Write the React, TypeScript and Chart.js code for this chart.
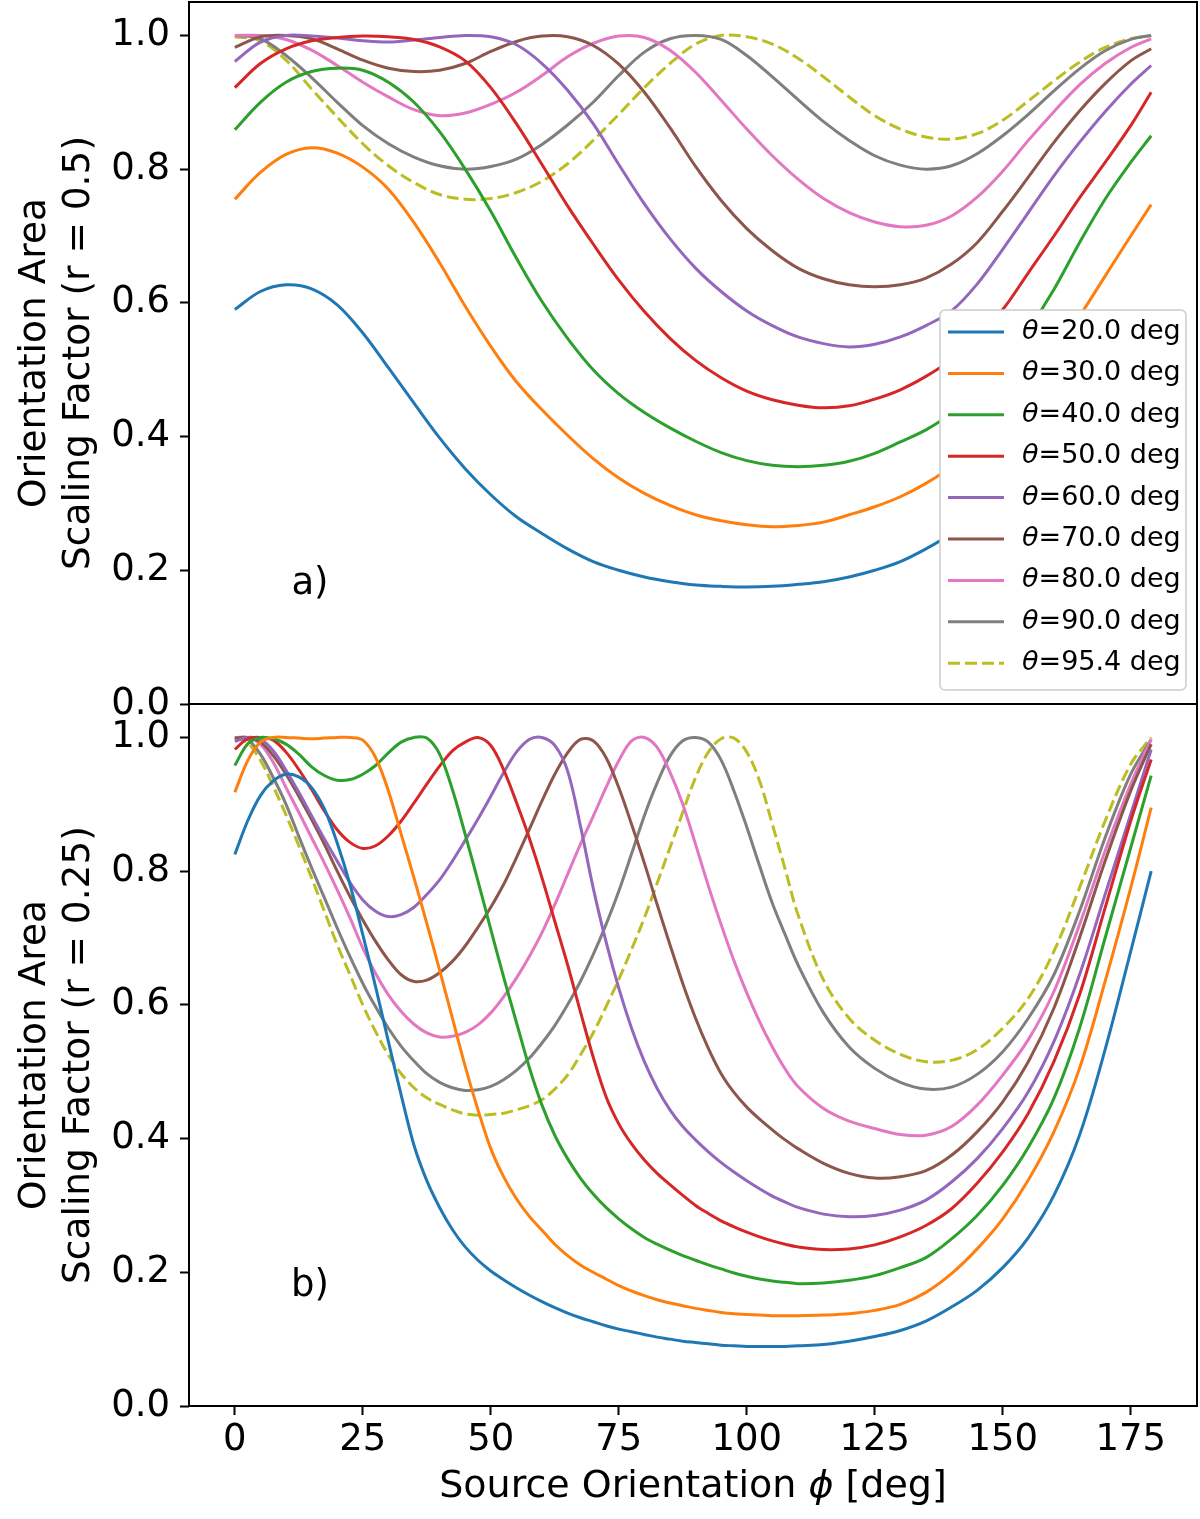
import { useEffect, useRef } from 'react'
import { Chart, registerables } from 'chart.js'

Chart.register(...registerables)

const FONT = "'DejaVu Sans', sans-serif"

// source orientation phi [deg], sample grid of the upper panel (r = 0.5)
const phiTop = [0, 5, 10, 15, 20, 25, 30, 35, 40, 45, 50, 55, 60, 65, 70, 75, 80, 85, 90, 95, 100, 105, 110, 115, 120, 125, 130, 135, 140, 145, 150, 155, 160, 165, 170, 175, 179]

const topT20 = [0.59, 0.617, 0.627, 0.621, 0.597, 0.555, 0.503, 0.45, 0.398, 0.352, 0.313, 0.28, 0.255, 0.232, 0.213, 0.2, 0.19, 0.183, 0.178, 0.176, 0.175, 0.176, 0.179, 0.183, 0.19, 0.2, 0.213, 0.232, 0.255, 0.285, 0.32, 0.36, 0.405, 0.455, 0.505, 0.555, 0.585]
const topT30 = [0.755, 0.795, 0.822, 0.832, 0.824, 0.803, 0.77, 0.72, 0.66, 0.595, 0.535, 0.482, 0.44, 0.402, 0.367, 0.338, 0.315, 0.297, 0.283, 0.274, 0.268, 0.265, 0.267, 0.272, 0.283, 0.295, 0.31, 0.33, 0.355, 0.39, 0.43, 0.475, 0.525, 0.58, 0.64, 0.7, 0.747]
const topT40 = [0.859, 0.9, 0.93, 0.946, 0.951, 0.948, 0.93, 0.9, 0.856, 0.8, 0.737, 0.667, 0.602, 0.547, 0.5, 0.464, 0.436, 0.413, 0.393, 0.376, 0.364, 0.357, 0.355, 0.357, 0.363, 0.375, 0.392, 0.41, 0.435, 0.47, 0.51, 0.56, 0.62, 0.69, 0.755, 0.81, 0.85]
const topT50 = [0.922, 0.958, 0.98, 0.992, 0.997, 0.999, 0.998, 0.994, 0.983, 0.962, 0.922, 0.868, 0.807, 0.745, 0.688, 0.634, 0.587, 0.547, 0.514, 0.488, 0.468, 0.455, 0.447, 0.443, 0.446, 0.456, 0.47, 0.49, 0.515, 0.55, 0.59, 0.645, 0.7, 0.757, 0.81, 0.865, 0.915]
const topT60 = [0.961, 0.99, 1.0, 0.999, 0.996, 0.992, 0.99, 0.993, 0.997, 1.0, 0.998, 0.986, 0.958, 0.918, 0.868, 0.807, 0.748, 0.696, 0.652, 0.617, 0.588, 0.566, 0.549, 0.539, 0.534, 0.538, 0.549, 0.566, 0.588, 0.628, 0.68, 0.735, 0.79, 0.84, 0.886, 0.927, 0.955]
const topT70 = [0.982, 0.998, 1.0, 0.995, 0.98, 0.963, 0.951, 0.946, 0.948, 0.958, 0.976, 0.991, 0.999, 0.998, 0.985, 0.957, 0.915, 0.862, 0.804, 0.753, 0.711, 0.678, 0.652, 0.636, 0.627, 0.624, 0.627, 0.637, 0.658, 0.69, 0.737, 0.788, 0.84, 0.887, 0.928, 0.962, 0.98]
const topT80 = [1.0, 1.0, 0.994, 0.978, 0.955, 0.93, 0.908, 0.889, 0.88, 0.884, 0.897, 0.915, 0.94, 0.968, 0.988, 0.999, 0.997, 0.978, 0.945, 0.903, 0.86, 0.82, 0.785, 0.756, 0.735, 0.721, 0.714, 0.716, 0.73, 0.758, 0.797, 0.843, 0.886, 0.926, 0.958, 0.982, 0.995]
const topT90 = [1.0, 0.995, 0.97, 0.937, 0.9, 0.865, 0.838, 0.818, 0.805, 0.8, 0.804, 0.815, 0.837, 0.866, 0.9, 0.94, 0.975, 0.995, 1.0, 0.994, 0.97, 0.938, 0.904, 0.871, 0.843, 0.82, 0.806, 0.8, 0.805, 0.823, 0.85, 0.882, 0.917, 0.95, 0.977, 0.994, 1.0]
const topT95 = [0.998, 0.992, 0.963, 0.92, 0.878, 0.838, 0.805, 0.78, 0.762, 0.755, 0.756, 0.765, 0.782, 0.808, 0.843, 0.882, 0.922, 0.958, 0.987, 1.0, 0.998, 0.987, 0.966, 0.938, 0.908, 0.88, 0.86, 0.848, 0.845, 0.853, 0.873, 0.902, 0.932, 0.96, 0.982, 0.995, 1.0]

// sample grid of the lower panel (r = 0.25), finer where the curves are narrow
const phiBottom = [0, 2.5, 5, 7.5, 10, 12.5, 15, 17.5, 20, 22.5, 25, 27.5, 30, 32.5, 35, 37.5, 40, 42.5, 45, 47.5, 50, 52.5, 55, 57.5, 60, 62.5, 65, 67.5, 70, 72.5, 75, 77.5, 80, 82.5, 85, 87.5, 90, 92.5, 95, 97.5, 100, 102.5, 105, 107.5, 110, 115, 120, 125, 130, 135, 140, 145, 150, 155, 160, 165, 170, 175, 179]

const botT20 = [0.825, 0.875, 0.913, 0.935, 0.945, 0.941, 0.925, 0.893, 0.842, 0.78, 0.705, 0.627, 0.545, 0.465, 0.39, 0.337, 0.297, 0.264, 0.238, 0.218, 0.202, 0.189, 0.177, 0.166, 0.156, 0.147, 0.139, 0.132, 0.126, 0.12, 0.115, 0.111, 0.107, 0.103, 0.1, 0.097, 0.095, 0.093, 0.091, 0.09, 0.089, 0.089, 0.089, 0.089, 0.09, 0.092, 0.097, 0.104, 0.113, 0.127, 0.148, 0.173, 0.207, 0.252, 0.315, 0.405, 0.533, 0.68, 0.8]
const botT30 = [0.918, 0.965, 0.993, 1.0, 1.0, 0.999, 0.998, 0.999, 1.0, 1.0, 0.996, 0.97, 0.92, 0.855, 0.79, 0.722, 0.652, 0.58, 0.508, 0.443, 0.385, 0.343, 0.31, 0.284, 0.263, 0.242, 0.225, 0.211, 0.2, 0.19, 0.18, 0.172, 0.165, 0.159, 0.154, 0.15, 0.146, 0.143, 0.14, 0.138, 0.137, 0.136, 0.135, 0.135, 0.135, 0.136, 0.138, 0.143, 0.152, 0.17, 0.198, 0.235, 0.28, 0.338, 0.41, 0.505, 0.635, 0.775, 0.895]
const botT40 = [0.958, 0.99, 1.0, 0.998, 0.99, 0.975, 0.956, 0.943, 0.936, 0.937, 0.945, 0.958, 0.977, 0.993, 1.0, 0.999, 0.975, 0.922, 0.855, 0.785, 0.713, 0.642, 0.574, 0.507, 0.45, 0.405, 0.37, 0.341, 0.317, 0.297, 0.28, 0.265, 0.252, 0.242, 0.233, 0.225, 0.218, 0.211, 0.205, 0.199, 0.194, 0.19, 0.187, 0.185, 0.183, 0.184, 0.188, 0.195, 0.207, 0.222, 0.25, 0.285, 0.33, 0.387, 0.46, 0.565, 0.7, 0.835, 0.943]
const botT50 = [0.982, 0.998, 1.0, 0.996, 0.978, 0.952, 0.922, 0.89, 0.862, 0.843, 0.834, 0.838, 0.853, 0.875, 0.902, 0.93, 0.957, 0.98, 0.993, 1.0, 0.988, 0.952, 0.903, 0.85, 0.79, 0.725, 0.66, 0.59, 0.522, 0.463, 0.422, 0.392, 0.368, 0.348, 0.331, 0.315, 0.3, 0.288, 0.277, 0.268, 0.26, 0.253, 0.247, 0.242, 0.238, 0.234, 0.235, 0.241, 0.253, 0.27, 0.295, 0.333, 0.38, 0.438, 0.515, 0.615, 0.745, 0.875, 0.967]
const botT60 = [0.994, 1.0, 0.997, 0.98, 0.951, 0.918, 0.883, 0.848, 0.815, 0.783, 0.757, 0.74, 0.732, 0.735, 0.746, 0.765, 0.787, 0.815, 0.846, 0.878, 0.912, 0.947, 0.978, 0.997, 1.0, 0.988, 0.95, 0.868, 0.775, 0.695, 0.625, 0.565, 0.515, 0.475, 0.443, 0.418, 0.398, 0.38, 0.364, 0.35, 0.337, 0.325, 0.314, 0.305, 0.297, 0.287, 0.283, 0.285, 0.293, 0.308, 0.335, 0.37, 0.415, 0.47, 0.545, 0.645, 0.765, 0.885, 0.982]
const botT70 = [0.999, 1.0, 0.993, 0.973, 0.945, 0.912, 0.877, 0.84, 0.8, 0.762, 0.727, 0.695, 0.667, 0.645, 0.635, 0.637, 0.648, 0.665, 0.688, 0.716, 0.746, 0.78, 0.82, 0.862, 0.905, 0.945, 0.977, 0.997, 0.995, 0.97, 0.925, 0.87, 0.812, 0.75, 0.69, 0.632, 0.58, 0.535, 0.497, 0.469, 0.447, 0.429, 0.413, 0.398, 0.385, 0.363, 0.348, 0.341, 0.343, 0.352, 0.375, 0.41, 0.455, 0.515, 0.595, 0.7, 0.815, 0.92, 0.99]
const botT80 = [1.0, 1.0, 0.99, 0.963, 0.925, 0.888, 0.85, 0.812, 0.772, 0.73, 0.685, 0.647, 0.615, 0.59, 0.571, 0.558, 0.552, 0.553, 0.559, 0.57, 0.588, 0.612, 0.64, 0.672, 0.708, 0.75, 0.795, 0.84, 0.882, 0.925, 0.965, 0.995, 1.0, 0.985, 0.948, 0.9, 0.84, 0.778, 0.72, 0.666, 0.618, 0.575, 0.537, 0.504, 0.478, 0.445, 0.426, 0.415, 0.406, 0.405, 0.418, 0.45, 0.495, 0.548, 0.62, 0.72, 0.83, 0.93, 0.997]
const botT90 = [1.0, 0.997, 0.975, 0.94, 0.9, 0.852, 0.805, 0.76, 0.715, 0.672, 0.632, 0.597, 0.565, 0.538, 0.516, 0.497, 0.484, 0.476, 0.472, 0.473, 0.478, 0.488, 0.502, 0.52, 0.543, 0.569, 0.6, 0.635, 0.675, 0.72, 0.77, 0.826, 0.883, 0.932, 0.972, 0.995, 1.0, 0.993, 0.966, 0.92, 0.866, 0.808, 0.752, 0.705, 0.66, 0.588, 0.537, 0.505, 0.484, 0.474, 0.477, 0.496, 0.53, 0.58, 0.645, 0.74, 0.85, 0.945, 0.997]
const botT95 = [0.999, 0.992, 0.966, 0.927, 0.884, 0.838, 0.79, 0.74, 0.69, 0.645, 0.6, 0.56, 0.525, 0.497, 0.476, 0.461, 0.451, 0.443, 0.437, 0.435, 0.436, 0.438, 0.443, 0.449, 0.458, 0.474, 0.495, 0.525, 0.558, 0.597, 0.638, 0.683, 0.73, 0.782, 0.835, 0.888, 0.94, 0.978, 0.998, 0.999, 0.978, 0.935, 0.87, 0.803, 0.735, 0.637, 0.58, 0.547, 0.526, 0.515, 0.517, 0.533, 0.565, 0.61, 0.68, 0.775, 0.875, 0.96, 1.0]

const thetaLabels = ['20.0', '30.0', '40.0', '50.0', '60.0', '70.0', '80.0', '90.0', '95.4']
const yTicks = [0, 0.2, 0.4, 0.6, 0.8, 1.0]
const xTicks = [0, 25, 50, 75, 100, 125, 150, 175]

const lineColors = ['#1f77b4', '#ff7f0e', '#2ca02c', '#d62728', '#9467bd', '#8c564b', '#e377c2', '#7f7f7f', '#bcbd22']
const DASH = [12, 5]

function makeDatasets(phi: number[], series: number[][]) {
  return series.map((vals, i) => ({
    label: `θ=${thetaLabels[i]} deg`,
    data: phi.map((x, k) => ({ x, y: vals[k] })),
    borderColor: lineColors[i],
    backgroundColor: lineColors[i],
    borderWidth: 3,
    borderDash: i === 8 ? DASH : [],
    pointRadius: 0,
    tension: 0.35,
    fill: false,
  }))
}

const framePlugin = {
  id: 'frame',
  afterDatasetsDraw(chart: any) {
    const { ctx, chartArea: a } = chart
    ctx.save()
    ctx.strokeStyle = '#000'
    ctx.lineWidth = 2
    ctx.strokeRect(a.left, a.top, a.right - a.left, a.bottom - a.top)
    ctx.restore()
  },
}

function panelLabel(text: string) {
  return {
    id: 'panel-' + text,
    afterDatasetsDraw(chart: any) {
      const { ctx, chartArea: a } = chart
      ctx.save()
      ctx.fillStyle = '#000'
      ctx.font = `37px ${FONT}`
      ctx.textAlign = 'center'
      ctx.textBaseline = 'middle'
      ctx.fillText(text, a.left + 0.12 * (a.right - a.left), a.bottom - 0.17 * (a.bottom - a.top))
      ctx.restore()
    },
  }
}

const legendPlugin = {
  id: 'boxLegend',
  afterDraw(chart: any) {
    const { ctx, chartArea: a } = chart
    const x0 = a.right - 257
    const y0 = a.bottom - 394
    ctx.save()
    ctx.beginPath()
    ctx.roundRect(x0, y0, 246, 380, 5)
    ctx.fillStyle = '#fff'
    ctx.fill()
    ctx.strokeStyle = '#cccccc'
    ctx.lineWidth = 1.5
    ctx.stroke()
    chart.data.datasets.forEach((ds: any, i: number) => {
      const y = y0 + 22 + i * 41.4
      ctx.beginPath()
      ctx.setLineDash(ds.borderDash)
      ctx.strokeStyle = ds.borderColor
      ctx.lineWidth = 3
      ctx.moveTo(x0 + 8, y)
      ctx.lineTo(x0 + 64, y)
      ctx.stroke()
      ctx.setLineDash([])
      ctx.fillStyle = '#000'
      ctx.textBaseline = 'middle'
      ctx.font = `italic 27px ${FONT}`
      ctx.fillText('θ', x0 + 82, y)
      const w = ctx.measureText('θ').width
      ctx.font = `27px ${FONT}`
      ctx.fillText(`=${thetaLabels[i]} deg`, x0 + 82 + w, y)
    })
    ctx.restore()
  },
}

const xTitlePlugin = {
  id: 'xTitle',
  afterDraw(chart: any) {
    const { ctx, chartArea: a } = chart
    const parts: [string, boolean][] = [['Source Orientation ', false], ['ϕ', true], [' [deg]', false]]
    ctx.save()
    ctx.fillStyle = '#000'
    ctx.textBaseline = 'middle'
    const fonts = parts.map(([, it]) => `${it ? 'italic ' : ''}38px ${FONT}`)
    const widths = parts.map(([t], i) => {
      ctx.font = fonts[i]
      return ctx.measureText(t).width
    })
    let x = (a.left + a.right) / 2 - widths.reduce((s, w) => s + w, 0) / 2
    const y = a.bottom + 81
    parts.forEach(([t], i) => {
      ctx.font = fonts[i]
      ctx.fillText(t, x, y)
      x += widths[i]
    })
    ctx.restore()
  },
}

function yScale(lines: string[]) {
  return {
    type: 'linear' as const,
    min: 0,
    max: 1.05,
    afterBuildTicks: (s: any) => {
      s.ticks = yTicks.map((value) => ({ value }))
    },
    afterFit: (s: any) => {
      s.width = 189
      s.paddingTop = 0
      s.paddingBottom = 0
    },
    ticks: {
      color: '#000',
      font: { size: 37, family: FONT },
      padding: 10,
      callback: (v: any) => Number(v).toFixed(1),
    },
    grid: { drawOnChartArea: false, drawTicks: true, tickLength: 9, tickColor: '#000', tickWidth: 2 },
    border: { display: false },
    title: {
      display: true,
      text: lines,
      color: '#000',
      font: { size: 37.5, family: FONT, lineHeight: 1.17 },
      padding: { top: 13, bottom: 0 },
    },
  }
}

export default function App() {
  const topRef = useRef<HTMLCanvasElement | null>(null)
  const botRef = useRef<HTMLCanvasElement | null>(null)

  useEffect(() => {
    document.body.style.margin = '0'
    if (!topRef.current || !botRef.current) return

    const top = new Chart(topRef.current, {
      type: 'line',
      data: {
        datasets: makeDatasets(phiTop, [topT20, topT30, topT40, topT50, topT60, topT70, topT80, topT90, topT95]),
      },
      options: {
        responsive: false,
        animation: false,
        layout: { padding: { top: 2, right: 3, bottom: 36, left: 0 } },
        plugins: { legend: { display: false }, tooltip: { enabled: false } },
        scales: {
          x: { type: 'linear', min: -8.95, max: 187.95, display: false },
          y: yScale(['Orientation Area', 'Scaling Factor (r = 0.5)']),
        },
      },
      plugins: [framePlugin, panelLabel('a)'), legendPlugin],
    })

    const bot = new Chart(botRef.current, {
      type: 'line',
      data: {
        datasets: makeDatasets(phiBottom, [botT20, botT30, botT40, botT50, botT60, botT70, botT80, botT90, botT95]),
      },
      options: {
        responsive: false,
        animation: false,
        layout: { padding: { top: 1, right: 3, bottom: 0, left: 0 } },
        plugins: { legend: { display: false }, tooltip: { enabled: false } },
        scales: {
          x: {
            type: 'linear',
            min: -8.95,
            max: 187.95,
            afterBuildTicks: (s: any) => {
              s.ticks = xTicks.map((value) => ({ value }))
            },
            afterFit: (s: any) => {
              s.height = 113
            },
            ticks: {
              color: '#000',
              font: { size: 37, family: FONT },
              padding: 3,
              autoSkip: false,
              maxRotation: 0,
              callback: (v: any) => String(v),
            },
            grid: { drawOnChartArea: false, drawTicks: true, tickLength: 9, tickColor: '#000', tickWidth: 2 },
            border: { display: false },
          },
          y: yScale(['Orientation Area', 'Scaling Factor (r = 0.25)']),
        },
      },
      plugins: [framePlugin, panelLabel('b)'), xTitlePlugin],
    })

    return () => {
      top.destroy()
      bot.destroy()
    }
  }, [])

  return (
    <div style={{ position: 'relative', width: 1200, height: 1519, background: '#fff' }}>
      <canvas ref={topRef} width={1200} height={740} style={{ position: 'absolute', left: 0, top: 0 }} />
      <canvas ref={botRef} width={1200} height={816} style={{ position: 'absolute', left: 0, top: 703 }} />
    </div>
  )
}
